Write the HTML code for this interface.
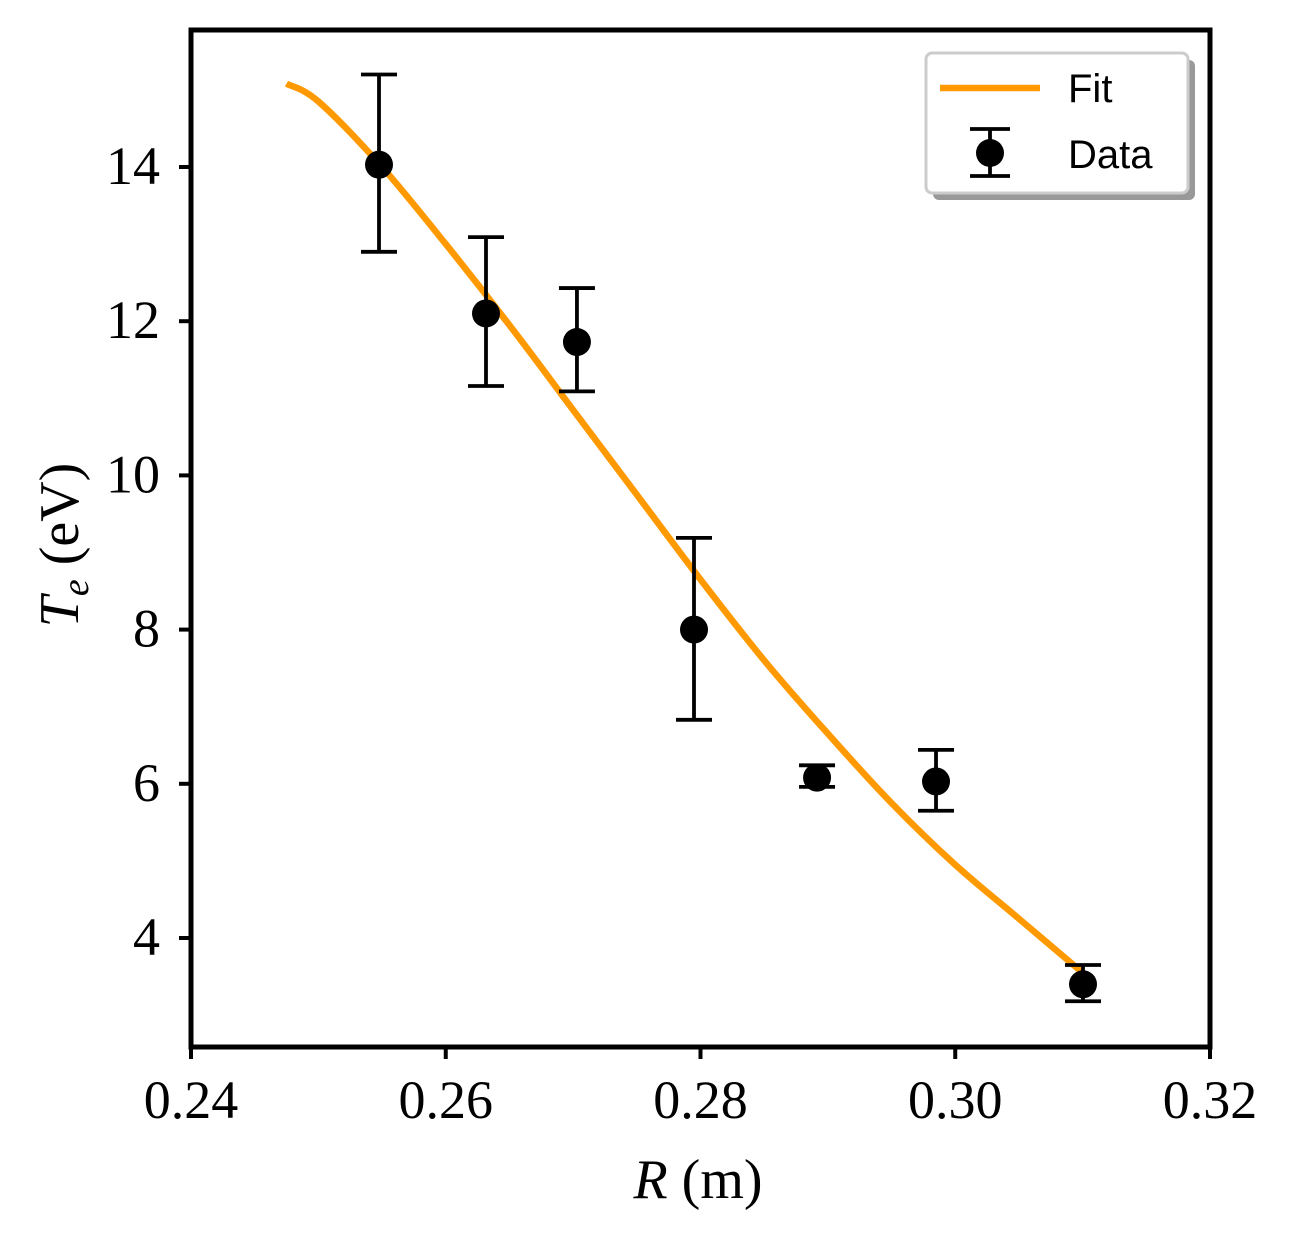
<!DOCTYPE html>
<html><head><meta charset="utf-8"><style>
body{margin:0;background:#fff;position:relative}
.serif{font-family:"Liberation Serif",serif}
.sans{font-family:"Liberation Sans",sans-serif}
</style></head><body>
<svg id="chart" width="1290" height="1236" xmlns="http://www.w3.org/2000/svg"></svg>
<script>
const dataR=[0.25476,0.26316,0.2703,0.27949,0.28915,0.29849,0.31003];
const dataTe=[14.03,12.1,11.73,8.0,6.08,6.03,3.4];
const errHi=[15.2,13.09,12.43,9.19,6.24,6.44,3.65];
const errLo=[12.9,11.16,11.09,6.83,5.96,5.65,3.18];
const fitR=[0.2475,0.25,0.255,0.26,0.265,0.27,0.275,0.28,0.285,0.29,0.295,0.30,0.305,0.310];
const fitTe=[15.08,14.85,14.0,13.0,11.95,10.85,9.75,8.65,7.6,6.65,5.75,4.95,4.25,3.55];
const xTicks=[0.24,0.26,0.28,0.30,0.32];
const xTickLabels=["0.24","0.26","0.28","0.30","0.32"];
const yTicks=[4,6,8,10,12,14];
const yTickLabels=["4","6","8","10","12","14"];

const L=191,R=1210,T=30,B=1047;
const X=v=>L+(v-0.24)/0.08*(R-L);
const Y=v=>938-(v-4)*77.1;
const svg=document.getElementById('chart');
const NS="http://www.w3.org/2000/svg";
function mk(tag,attrs,parent){const e=document.createElementNS(NS,tag);for(const k in attrs)e.setAttribute(k,attrs[k]);(parent||svg).appendChild(e);return e;}

const P=fitR.map((r,i)=>[X(r),Y(fitTe[i])]);
let d='M'+P[0][0].toFixed(1)+','+P[0][1].toFixed(1);
for(let i=0;i<P.length-1;i++){
  const p0=P[i-1]||P[i],p1=P[i],p2=P[i+1],p3=P[i+2]||P[i+1];
  const c1=[p1[0]+(p2[0]-p0[0])/6,p1[1]+(p2[1]-p0[1])/6];
  const c2=[p2[0]-(p3[0]-p1[0])/6,p2[1]-(p3[1]-p1[1])/6];
  d+=' C'+c1.map(v=>v.toFixed(1)).join(',')+' '+c2.map(v=>v.toFixed(1)).join(',')+' '+p2.map(v=>v.toFixed(1)).join(',');
}
const fit=mk('path',{d:d,fill:'none',stroke:'#ff9900','stroke-width':6.5,'stroke-linejoin':'round'});



dataR.forEach((r,i)=>{
  const g=mk('g',{});
  
  
  const x=X(r),yh=Y(errHi[i]),yl=Y(errLo[i]);
  mk('line',{x1:x,x2:x,y1:yh,y2:yl,stroke:'#000','stroke-width':3.8},g);
  mk('line',{x1:x-18,x2:x+18,y1:yh,y2:yh,stroke:'#000','stroke-width':3.8},g);
  mk('line',{x1:x-18,x2:x+18,y1:yl,y2:yl,stroke:'#000','stroke-width':3.8},g);
  mk('circle',{cx:x,cy:Y(dataTe[i]),r:14,fill:'#000'},g);
});

const fr=mk('rect',{x:L,y:T,width:R-L,height:B-T,fill:'none',stroke:'#000','stroke-width':5});



xTicks.forEach((v,i)=>{
  mk('line',{x1:X(v),x2:X(v),y1:B,y2:B+12,stroke:'#000','stroke-width':4});
  const t=mk('text',{x:X(v),y:1118,'font-size':54,'text-anchor':'middle','class':'serif'});
  t.textContent=xTickLabels[i];
  
  
});
yTicks.forEach((v,i)=>{
  mk('line',{x1:L,x2:L-12,y1:Y(v),y2:Y(v),stroke:'#000','stroke-width':4});
  const t=mk('text',{x:160,y:Y(v)+17,'font-size':54,'text-anchor':'end','class':'serif'});
  t.textContent=yTickLabels[i];
  
  
});
</script>
<svg style="position:absolute;left:0;top:0" width="1290" height="1236">
<text class="serif" x="698" y="1198" font-size="56" text-anchor="middle"><tspan font-style="italic">R</tspan> (m)</text>
<text class="serif" transform="translate(78,545) rotate(-90)" font-size="56" text-anchor="middle"><tspan font-style="italic">T</tspan><tspan font-style="italic" font-size="38" dy="10">e</tspan><tspan dy="-10"> (eV)</tspan></text>
<g>
<rect x="933" y="60" width="262" height="140" rx="6" fill="#999"/>
<rect x="926" y="53" width="262" height="140" rx="6" fill="#fff" stroke="#ccc" stroke-width="3"/>
<line x1="940" x2="1040" y1="88" y2="88" stroke="#ff9900" stroke-width="6.5"/>
<text class="sans" x="1068" y="102" font-size="40">Fit</text>
<line x1="990" x2="990" y1="129" y2="176" stroke="#000" stroke-width="3.8"/>
<line x1="970" x2="1010" y1="129" y2="129" stroke="#000" stroke-width="3.8"/>
<line x1="970" x2="1010" y1="176" y2="176" stroke="#000" stroke-width="3.8"/>
<circle cx="990" cy="153" r="14" fill="#000"/>
<text class="sans" x="1068" y="168" font-size="40">Data</text>
</g>
</svg>
</body></html>
